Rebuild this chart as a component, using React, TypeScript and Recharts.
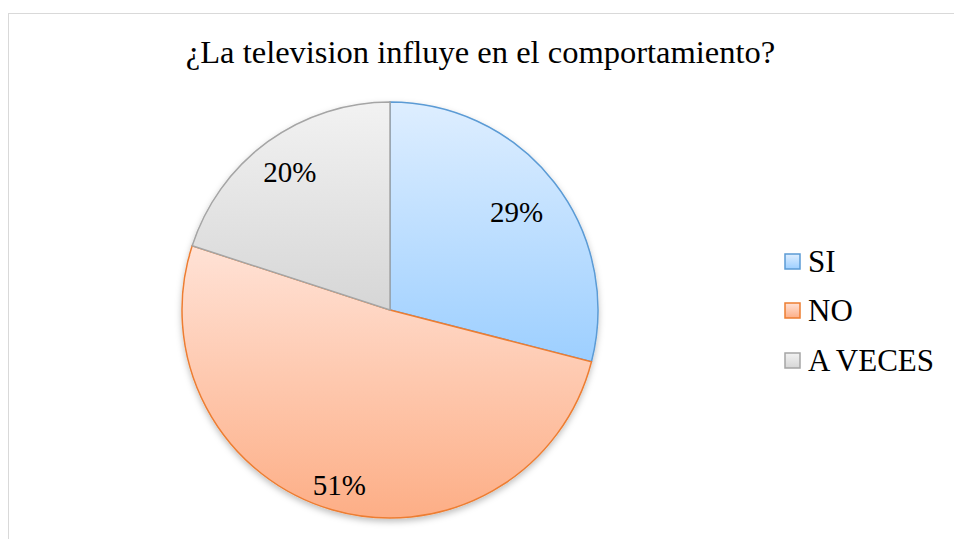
import React from "react";
import { PieChart, Pie, Cell, Legend } from "recharts";

const categories = ["SI", "NO", "A VECES"];
const values = [29, 51, 20];
const title = "¿La television influye en el comportamiento?";

const strokes = ["#5b9bd5", "#ed7d31", "#a5a5a5"];
const gradTop = ["#deeeff", "#ffe2d6", "#f2f2f2"];
const gradBottom = ["#9dcfff", "#fdae86", "#d6d6d6"];
const labelFactors = [0.77, 0.875, 0.82];

const data = categories.map((name, i) => ({ name, value: values[i] }));

const RADIAN = Math.PI / 180;
const serif = "Liberation Serif, Times New Roman, Times, DejaVu Serif, serif";

const renderLabel = (props: any) => {
  const { cx, cy, midAngle, outerRadius, percent, index } = props;
  const r = outerRadius * labelFactors[index];
  const x = cx + r * Math.cos(-midAngle * RADIAN);
  const y = cy + r * Math.sin(-midAngle * RADIAN);
  return (
    <text
      x={x}
      y={y}
      textAnchor="middle"
      dominantBaseline="central"
      style={{ fontFamily: serif, fontSize: 29 }}
      fill="#000"
    >
      {Math.round(percent * 100)}%
    </text>
  );
};

const renderLegend = () => (
  <div style={{ fontFamily: serif, fontSize: 31, color: "#000" }}>
    {categories.map((c, i) => (
      <div
        key={c}
        style={{ display: "flex", alignItems: "center", height: 49.5, whiteSpace: "nowrap" }}
      >
        <svg width={18} height={18} style={{ marginRight: 6 }}>
          <rect x={1} y={1} width={15} height={15} fill={`url(#lg${i})`} stroke={strokes[i]} strokeWidth={1.5} />
        </svg>
        <span>{c}</span>
      </div>
    ))}
  </div>
);

export default function App() {
  return (
    <div style={{ position: "absolute", left: 0, top: 0, width: 954, height: 539, background: "#fff", overflow: "hidden", fontFamily: serif }}>
      <style>{`.recharts-pie { filter: url(#pieShadow); }`}</style>
      <div
        style={{
          position: "absolute",
          left: 8,
          top: 13,
          width: 1000,
          height: 600,
          border: "1px solid #d9d9d9",
          boxSizing: "border-box",
        }}
      />
      <div
        style={{
          position: "absolute",
          left: 0,
          width: 961,
          top: 32,
          textAlign: "center",
          fontFamily: serif,
          fontSize: 32.5,
          lineHeight: "40px",
          color: "#000",
          whiteSpace: "nowrap",
        }}
      >
        {title}
      </div>
      <div style={{ position: "absolute", left: 0, top: 0 }}>
        <PieChart width={954} height={539} margin={{ top: 0, right: 0, bottom: 0, left: 0 }}>
          <defs>
            {categories.map((c, i) => (
              <linearGradient key={c} id={`g${i}`} x1="0" y1="0" x2="0" y2="1">
                <stop offset="0%" stopColor={gradTop[i]} />
                <stop offset="100%" stopColor={gradBottom[i]} />
              </linearGradient>
            ))}
            {categories.map((c, i) => (
              <linearGradient key={c + "l"} id={`lg${i}`} x1="0" y1="0" x2="0" y2="1">
                <stop offset="0%" stopColor={gradTop[i]} />
                <stop offset="100%" stopColor={gradBottom[i]} />
              </linearGradient>
            ))}
            <filter id="pieShadow" x="-10%" y="-10%" width="120%" height="125%">
              <feDropShadow dx="0" dy="3" stdDeviation="3" floodColor="#000" floodOpacity="0.25" />
            </filter>
          </defs>
          <Pie
            data={data}
            dataKey="value"
            nameKey="name"
            cx={390}
            cy={310}
            outerRadius={208}
            startAngle={90}
            endAngle={-270}
            label={renderLabel}
            labelLine={false}
            isAnimationActive={false}
          >
            {data.map((d, i) => (
              <Cell key={d.name} fill={`url(#g${i})`} stroke={strokes[i]} strokeWidth={1.5} />
            ))}
          </Pie>
          <Legend
            content={renderLegend}
            layout="vertical"
            wrapperStyle={{ position: "absolute", left: 784, top: 237, width: 170 }}
          />
        </PieChart>
      </div>
    </div>
  );
}
